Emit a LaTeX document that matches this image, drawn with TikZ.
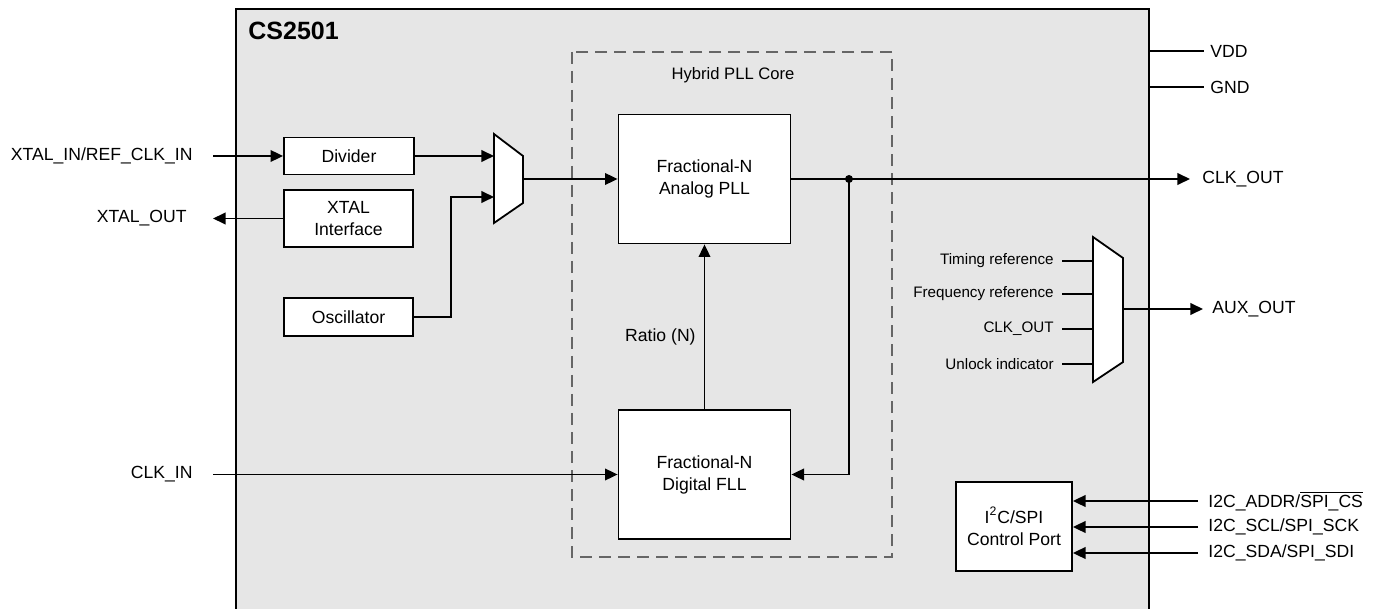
\documentclass[tikz,border=0pt]{standalone}
\usepackage{fontspec}
\setmainfont{Liberation Sans}
\usetikzlibrary{arrows.meta}

\definecolor{chipgray}{RGB}{230,230,230}
\definecolor{coregray}{RGB}{102,102,102}

\tikzset{
	wire/.style={line width=0.9pt},
	sig/.style={wire, -{Triangle[length=6.3pt, width=5.8pt]}},
	blk/.style={draw, wire, fill=white, align=center, inner sep=0pt, font=\fontsize{8.8}{11}\selectfont},
	lbl/.style={font=\fontsize{8.8}{11}\selectfont, inner ysep=0pt},
	sml/.style={font=\fontsize{7.6}{9}\selectfont, inner ysep=0pt},
	coredash/.style={draw=coregray, line width=1.3pt, dash pattern=on 6pt off 3.5pt},
}

\begin{document}
\begin{tikzpicture}[x=0.5pt, y=-0.5pt]

	\useasboundingbox (0,0) rectangle (1377,609);

	\fill[chipgray] (236,9) rectangle (1149,620);
	\draw[wire] (236,620) -- (236,9) -- (1149,9) -- (1149,620);
	\coordinate (chipR) at (1149,0);
	\node[font=\fontsize{12.5}{15}\selectfont\bfseries, anchor=west, inner sep=0pt] (chip) at (248,31) {CS2501};

	\draw[coredash] (572,52) rectangle (892,557);
	\node[font=\fontsize{8.3}{10}\selectfont] (hyb) at (733,75) {Hybrid PLL Core};

	\node[blk, minimum width=86pt, minimum height=64.5pt] (apll) at (704.5,179) {Fractional-N\\Analog PLL};
	\node[blk, minimum width=86pt, minimum height=64.5pt] (dfll) at (704.5,474.5) {Fractional-N\\Digital FLL};

	\node[blk, minimum width=65pt, minimum height=18.5pt] (div) at (349,156) {Divider};
	\node[blk, minimum width=64.5pt, minimum height=28.5pt] (xtal) at (348.5,218.5) {XTAL\\Interface};
	\node[blk, minimum width=64.5pt, minimum height=19pt] (osc) at (348.5,317) {Oscillator};
	\node[blk, minimum width=58pt, minimum height=44.5pt] (ctl) at (1014,526.5) {I\textsuperscript{2}C/SPI\\Control Port};

	\draw[wire, fill=white] (494,134) coordinate (m1a) -- (523,156) -- (523,203) -- (494,223) -- cycle;
	\coordinate (m1in1) at (494,156);
	\coordinate (m1in2) at (494,197);
	\coordinate (m1out) at (523,179);

	\draw[wire, fill=white] (1093,237) coordinate (m2a) -- (1123,258) -- (1123,362) -- (1093,382) -- cycle;
	\coordinate (m2out) at (1123,309);

	\node[lbl, anchor=east, inner xsep=10pt] (xin) at (213,156) {XTAL\_IN/REF\_CLK\_IN};
	\node[lbl, anchor=east, inner xsep=13pt] (xout) at (213,218.5) {XTAL\_OUT};
	\node[lbl, anchor=east, inner xsep=10pt] (clkin) at (213,474.5) {CLK\_IN};

	\node[lbl, anchor=west, inner xsep=3pt] (vdd) at (1204,51) {VDD};
	\node[lbl, anchor=west, inner xsep=3pt] (gnd) at (1204,87) {GND};
	\node[lbl, anchor=west, inner xsep=6pt] (clkout) at (1190,179) {CLK\_OUT};
	\node[lbl, anchor=west, inner xsep=4.5pt] (auxout) at (1203,309) {AUX\_OUT};

	\draw[sig] (xin.east) -- (div.west);
	\draw[sig] (xtal.west) -- (xout.east);
	\draw[sig] (clkin.east) -- (dfll.west);
	\draw[sig] (div.east) -- (m1in1);
	\draw[sig] (osc.east) -- ++(37,0) |- (m1in2);
	\draw[sig] (m1out) -- (apll.west);

	\draw[sig] (apll.east) -- (clkout.west);
	\coordinate (tap) at (849,179);
	\fill (tap) circle (2pt);
	\draw[sig] (tap) |- (dfll.east);

	\draw[sig] (dfll.north) -- (apll.south);
	\node[lbl, anchor=east, inner sep=0pt] (ratio) at (696,337) {Ratio (N)};

	\draw[wire] (vdd.west -| chipR) -- (vdd.west);
	\draw[wire] (gnd.west -| chipR) -- (gnd.west);
	\draw[sig] (m2out) -- (auxout.west);

	\foreach \y/\name/\txt in {261/tref/Timing reference, 294/fref/Frequency reference, 329/cko/CLK\_OUT, 364/unl/Unlock indicator} {
		\node[sml, anchor=east, inner xsep=4pt] (\name) at (1062,\y) {\txt};
		\draw[wire] (\name.east) -- (\name.east -| m2a);
	}

	\foreach \y/\name/\txt in {501/addr/{I2C\_ADDR/$\overline{\hbox{SPI\_CS}}$}, 527/scl/{I2C\_SCL/SPI\_SCK}, 553/sda/{I2C\_SDA/SPI\_SDI}} {
		\node[lbl, anchor=west, inner xsep=5pt] (\name) at (1198,\y) {\txt};
		\draw[sig] (\name.west) -- (\name.west -| ctl.east);
	}

\end{tikzpicture}
\end{document}
